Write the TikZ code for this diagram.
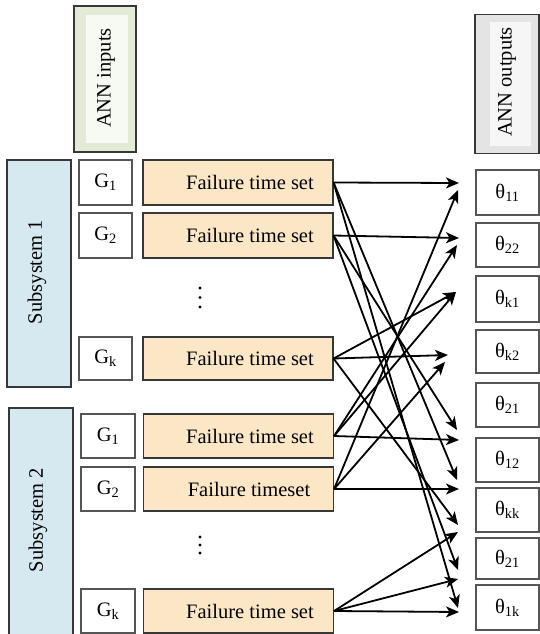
\documentclass[tikz,border=0pt]{standalone}
\usepackage{fontspec}
\setmainfont{Liberation Serif}
\usetikzlibrary{arrows.meta}
\definecolor{subfill}{RGB}{214,233,240}
\definecolor{failfill}{RGB}{251,231,197}
\definecolor{inout}{RGB}{227,235,214}
\definecolor{inin}{RGB}{247,250,243}
\definecolor{outout}{RGB}{228,228,228}
\definecolor{outin}{RGB}{246,246,246}
\definecolor{edge}{RGB}{55,55,55}
\definecolor{gedge}{RGB}{85,85,85}
\tikzset{
  txt/.style={font=\fontsize{20.5}{24}\selectfont},
  subbox/.style={draw=edge, line width=1.2pt, fill=subfill, inner sep=0pt, minimum width=64},
  gbox/.style={draw=gedge, line width=1.1pt, fill=white, inner sep=0pt, txt},
  failbox/.style={draw=edge, line width=1.1pt, fill=failfill, inner sep=0pt, minimum width=190},
  thbox/.style={draw=gedge, line width=1.1pt, fill=white, inner sep=0pt, minimum width=63, txt},
  conn/.style={line width=1.8pt, -{Stealth[length=13pt,width=11pt,inset=3.5pt]}},
  dotc/.style={fill=black}
}
\begin{document}
\begin{tikzpicture}[x=1pt,y=-1pt]
\useasboundingbox (0,0) rectangle (540,634);
% ANN inputs
\node[draw=edge, line width=1.2pt, fill=inout, minimum width=62, minimum height=146, inner sep=0pt] (annin) at (105,79) {};
\fill[inin] (86,15) rectangle (128,143);
\node[txt, rotate=90] (annint) at (106,78) {ANN inputs};
% ANN outputs
\node[draw=edge, line width=1.2pt, fill=outout, minimum width=64, minimum height=139, inner sep=0pt] (annout) at (507,84) {};
\fill[outin] (490,22) rectangle (531,146);
\node[txt, rotate=90] (annoutt) at (507,82) {ANN outputs};
% Subsystems
\node[subbox, minimum height=227] (sub1) at (39,273.5) {};
\node[txt, rotate=90] (sub1t) at (37,272) {Subsystem 1};
\node[subbox, minimum height=232] (sub2) at (41,524) {};
\node[txt, rotate=90] (sub2t) at (38,520) {Subsystem 2};
% G boxes
\node[gbox, minimum width=53, minimum height=45] (g1) at (105.5,182.5) {G\textsubscript{1}};
\node[gbox, minimum width=53, minimum height=45] (g2) at (105.5,235.5) {G\textsubscript{2}};
\node[gbox, minimum width=53, minimum height=43] (g3) at (105.5,358.5) {G\textsubscript{k}};
\node[gbox, minimum width=54, minimum height=44] (g4) at (108,436) {G\textsubscript{1}};
\node[gbox, minimum width=54, minimum height=44] (g5) at (108,489) {G\textsubscript{2}};
\node[gbox, minimum width=54, minimum height=44] (g6) at (108,611) {G\textsubscript{k}};
% Failure boxes
\node[failbox, minimum height=45] (f1) at (238,182.5) {};
\node[failbox, minimum height=45] (f2) at (238,235.5) {};
\node[failbox, minimum height=43] (f3) at (238,358.5) {};
\node[failbox, minimum height=44] (f4) at (238.5,436) {};
\node[failbox, minimum height=44] (f5) at (238.5,489) {};
\node[failbox, minimum height=44] (f6) at (238.5,611) {};
\node[txt] (f1t) at (250,182.5) {Failure time set};
\node[txt] (f2t) at (250,235.5) {Failure time set};
\node[txt] (f3t) at (250,358.5) {Failure time set};
\node[txt] (f4t) at (250,436) {Failure time set};
\node[txt] (f5t) at (249,489) {Failure timeset};
\node[txt] (f6t) at (250,611) {Failure time set};
% vertical dots
\foreach \yy in {288,297.5,307} \fill[dotc] (200,\yy) circle (1.7);
\foreach \yy in {537,545,553} \fill[dotc] (200,\yy) circle (1.7);
% theta boxes
\node[thbox, minimum height=45] (t1) at (507.5,192.5) {θ\textsubscript{11}};
\node[thbox, minimum height=44] (t2) at (507.5,245) {θ\textsubscript{22}};
\node[thbox, minimum height=46] (t3) at (507.5,299) {θ\textsubscript{k1}};
\node[thbox, minimum height=43] (t4) at (507.5,351.5) {θ\textsubscript{k2}};
\node[thbox, minimum height=44] (t5) at (507.5,405) {θ\textsubscript{21}};
\node[thbox, minimum height=44] (t6) at (507.5,460) {θ\textsubscript{12}};
\node[thbox, minimum height=44] (t7) at (507.5,510) {θ\textsubscript{kk}};
\node[thbox, minimum height=41] (t8) at (507.5,558.5) {θ\textsubscript{21}};
\node[thbox, minimum height=45] (t9) at (507.5,607.5) {θ\textsubscript{1k}};
% arrow tips
\coordinate (p1) at (459,183);
\coordinate (p2) at (458,190);
\coordinate (p3) at (459,238);
\coordinate (p4) at (457,245);
\coordinate (p5) at (456,292);
\coordinate (p6) at (448,355);
\coordinate (p7) at (445,362);
\coordinate (p8) at (457,430);
\coordinate (p9) at (459,440);
\coordinate (p10) at (457,480);
\coordinate (p11) at (459,489);
\coordinate (p12) at (458,525);
\coordinate (p13) at (458,532);
\coordinate (p14) at (458,570);
\coordinate (p15) at (458,579);
\coordinate (p16) at (458,608);
\coordinate (p17) at (459,612);
% connectors
\draw[conn] (f1.east) -- (p1);
\draw[conn] (f1.east) -- (p10);
\draw[conn] (f1.east) -- (p16);
\draw[conn] (f2.east) -- (p3);
\draw[conn] (f2.east) -- (p8);
\draw[conn] (f2.east) -- (p14);
\draw[conn] (f3.east) -- (p6);
\draw[conn] (f3.east) -- (p5);
\draw[conn] (f3.east) -- (p12);
\draw[conn] (f4.east) -- (p9);
\draw[conn] (f4.east) -- (p4);
\draw[conn] (f4.east) -- (p5);
\draw[conn] (f5.east) -- (p11);
\draw[conn] (f5.east) -- (p2);
\draw[conn] (f5.east) -- (p7);
\draw[conn] (f6.east) -- (p17);
\draw[conn] (f6.east) -- (p13);
\draw[conn] (f6.east) -- (p15);
\end{tikzpicture}
\end{document}
